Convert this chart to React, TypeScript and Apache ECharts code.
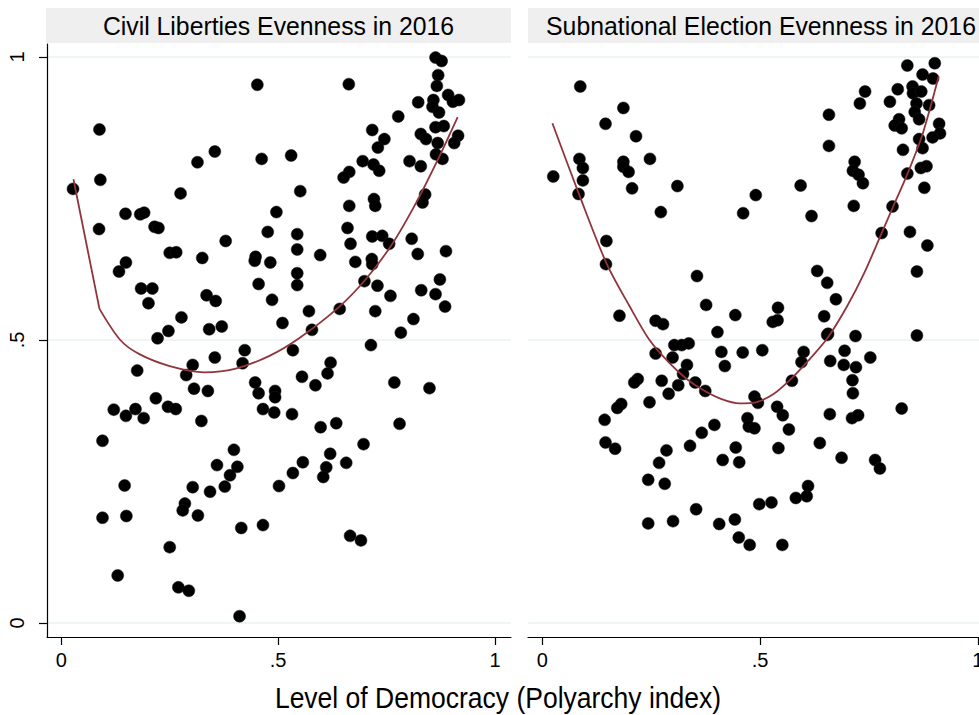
import React, { useEffect, useRef } from "react";
import * as echarts from "echarts";

const panelTitles = ["Civil Liberties Evenness in 2016", "Subnational Election Evenness in 2016"];
const xAxisTitle = "Level of Democracy (Polyarchy index)";
const tickValues = [0, 0.5, 1];

const civilPoints: number[][] = [
  [0.452,0.951],[0.088,0.872],[0.090,0.783],[0.027,0.767],[0.087,0.696],[0.354,0.833],[0.314,0.814],[0.462,0.820],
  [0.275,0.759],[0.148,0.723],[0.182,0.722],[0.191,0.725],[0.215,0.700],[0.224,0.698],[0.496,0.726],[0.476,0.691],
  [0.379,0.675],[0.250,0.654],[0.265,0.655],[0.325,0.645],[0.448,0.647],[0.446,0.640],[0.482,0.637],[0.149,0.637],
  [0.133,0.621],[0.455,0.599],[0.184,0.591],[0.210,0.591],[0.201,0.565],[0.335,0.579],[0.356,0.569],[0.486,0.571],
  [0.277,0.540],[0.247,0.516],[0.341,0.519],[0.370,0.524],[0.222,0.503],[0.510,0.530],
  [0.863,0.999],[0.877,0.993],[0.869,0.968],[0.866,0.949],[0.663,0.952],[0.823,0.920],[0.858,0.924],[0.856,0.912],
  [0.871,0.902],[0.892,0.933],[0.903,0.921],[0.917,0.924],[0.777,0.895],[0.863,0.876],[0.882,0.878],[0.717,0.871],
  [0.745,0.855],[0.730,0.840],[0.829,0.864],[0.841,0.855],[0.868,0.848],[0.915,0.861],[0.906,0.848],[0.864,0.828],
  [0.879,0.820],[0.530,0.826],[0.695,0.816],[0.720,0.810],[0.733,0.799],[0.803,0.816],[0.829,0.807],[0.664,0.797],
  [0.651,0.787],[0.551,0.763],[0.839,0.757],[0.833,0.743],[0.664,0.737],[0.721,0.749],[0.724,0.737],[0.660,0.698],
  [0.544,0.687],[0.717,0.683],[0.740,0.684],[0.756,0.670],[0.808,0.679],[0.822,0.652],[0.887,0.657],[0.544,0.660],
  [0.667,0.670],[0.597,0.650],[0.544,0.618],[0.544,0.597],[0.678,0.638],[0.716,0.643],[0.717,0.634],[0.699,0.604],
  [0.729,0.596],[0.759,0.578],[0.830,0.588],[0.863,0.581],[0.873,0.607],[0.885,0.559],[0.571,0.551],[0.642,0.555],
  [0.724,0.551],[0.812,0.537],[0.578,0.518],[0.783,0.513],
  [0.714,0.491],[0.534,0.482],[0.621,0.460],[0.614,0.441],[0.555,0.435],[0.586,0.420],[0.768,0.425],[0.849,0.415],
  [0.493,0.410],[0.493,0.399],[0.491,0.372],[0.532,0.369],[0.598,0.346],[0.634,0.353],[0.780,0.352],[0.697,0.316],
  [0.620,0.299],[0.557,0.284],[0.611,0.275],[0.657,0.283],[0.534,0.265],[0.604,0.258],[0.502,0.242],[0.666,0.154],
  [0.691,0.146],
  [0.423,0.482],[0.418,0.459],[0.354,0.469],[0.303,0.456],[0.175,0.446],[0.288,0.438],[0.306,0.414],[0.338,0.410],
  [0.447,0.425],[0.455,0.406],[0.465,0.378],[0.218,0.397],[0.121,0.377],[0.149,0.366],[0.171,0.378],[0.190,0.362],
  [0.246,0.382],[0.264,0.378],[0.323,0.357],[0.095,0.322],[0.398,0.306],[0.359,0.279],[0.406,0.276],[0.389,0.261],
  [0.377,0.241],[0.303,0.240],[0.343,0.232],[0.146,0.243],[0.285,0.211],[0.280,0.199],[0.315,0.190],[0.095,0.186],
  [0.150,0.189],[0.415,0.168],[0.465,0.173],[0.250,0.134],[0.130,0.084],[0.270,0.063],[0.294,0.057],[0.411,0.012]
];

const subnatPoints: number[][] = [
  [0.087,0.948],[0.186,0.910],[0.145,0.882],[0.215,0.860],[0.085,0.820],[0.093,0.804],[0.025,0.789],[0.093,0.782],
  [0.083,0.758],[0.186,0.815],[0.186,0.806],[0.198,0.797],[0.247,0.820],[0.206,0.768],[0.310,0.772],[0.272,0.726],
  [0.461,0.724],[0.147,0.675],[0.146,0.634],[0.355,0.613],[0.376,0.562],[0.443,0.544],[0.177,0.543],[0.260,0.534],
  [0.277,0.528],[0.402,0.514],
  [0.303,0.491],[0.320,0.491],[0.336,0.494],[0.260,0.476],[0.299,0.469],[0.411,0.479],[0.460,0.478],[0.419,0.454],
  [0.332,0.456],[0.323,0.440],[0.219,0.431],[0.211,0.425],[0.274,0.428],[0.312,0.420],[0.351,0.425],[0.374,0.410],
  [0.290,0.405],[0.246,0.390],[0.181,0.387],[0.172,0.380],[0.143,0.359],[0.145,0.319],[0.167,0.308],[0.395,0.350],
  [0.366,0.336],[0.339,0.313],[0.285,0.305],[0.268,0.283],[0.243,0.253],[0.281,0.246],[0.444,0.310],[0.414,0.288],
  [0.452,0.284],[0.471,0.362],[0.474,0.347],[0.353,0.201],[0.243,0.176],[0.300,0.180],[0.406,0.175],[0.442,0.183],
  [0.451,0.151],[0.476,0.138],
  [0.656,0.511],[0.719,0.507],[0.860,0.508],[0.505,0.482],[0.600,0.479],[0.595,0.461],[0.661,0.463],[0.694,0.481],
  [0.692,0.456],[0.720,0.452],[0.753,0.469],[0.712,0.429],[0.713,0.406],[0.573,0.428],[0.487,0.400],[0.495,0.389],
  [0.539,0.382],[0.552,0.367],[0.660,0.369],[0.711,0.362],[0.725,0.367],[0.825,0.379],[0.487,0.344],[0.566,0.342],
  [0.637,0.318],[0.542,0.309],[0.687,0.292],[0.764,0.288],[0.775,0.273],[0.610,0.242],[0.607,0.224],[0.582,0.221],
  [0.526,0.213],[0.498,0.210],[0.551,0.138],
  [0.838,0.985],[0.901,0.989],[0.873,0.969],[0.897,0.962],[0.816,0.943],[0.850,0.948],[0.851,0.936],[0.870,0.939],
  [0.741,0.939],[0.729,0.918],[0.798,0.921],[0.859,0.918],[0.888,0.915],[0.855,0.903],[0.865,0.890],[0.658,0.898],
  [0.819,0.890],[0.809,0.879],[0.825,0.874],[0.911,0.882],[0.913,0.865],[0.896,0.858],[0.865,0.855],[0.873,0.839],
  [0.828,0.836],[0.658,0.843],[0.717,0.815],[0.713,0.799],[0.726,0.792],[0.736,0.777],[0.869,0.804],[0.882,0.807],
  [0.838,0.794],[0.877,0.769],[0.593,0.773],[0.490,0.756],[0.618,0.719],[0.715,0.737],[0.804,0.736],[0.779,0.689],
  [0.844,0.691],[0.884,0.667],[0.860,0.621],[0.631,0.622],[0.654,0.601],[0.674,0.572],[0.541,0.557],[0.529,0.532],
  [0.540,0.535],[0.647,0.542],[0.654,0.509]
];

const civilFitStart: number[][] = [[0.028,0.784],[0.088,0.555]];
const civilFit: number[][] = [
  [0.088,0.555],[0.136,0.500],[0.18,0.475],[0.25,0.454],[0.33,0.443],[0.40,0.449],[0.48,0.472],
  [0.55,0.504],[0.64,0.558],[0.705,0.610],[0.765,0.672],[0.82,0.745],[0.866,0.815],[0.914,0.894]
];

const subnatFit: number[][] = [
  [0.023,0.883],[0.083,0.760],[0.147,0.636],[0.2,0.56],[0.246,0.500],[0.292,0.459],[0.33,0.432],[0.368,0.412],
  [0.41,0.396],[0.453,0.388],[0.49,0.390],[0.53,0.404],[0.568,0.429],[0.61,0.463],[0.656,0.505],[0.70,0.560],
  [0.74,0.620],[0.779,0.689],[0.805,0.735],[0.839,0.795],[0.871,0.859],[0.894,0.920],[0.910,0.966]
];

export default function App() {
  const ref = useRef<HTMLDivElement>(null);
  useEffect(() => {
    if (!ref.current) return;
    const chart = echarts.init(ref.current, null, { renderer: "svg" });
    const font = "'Liberation Sans', Arial, Helvetica, sans-serif";
    const fmt = (v: number) => (Math.abs(v - 0.5) < 1e-9 ? ".5" : String(v));
    const grids = [
      { left: 47, top: 44, width: 464, height: 593 },
      { left: 528, top: 44, width: 466, height: 593 },
    ];
    const axisLineStyle = { color: "#000", width: 1.2 };
    const xAxes = grids.map((_, i) => ({
      type: "value",
      gridIndex: i,
      min: -0.033,
      max: 1.037,
      splitLine: { show: false },
      axisLine: { show: true, onZero: false, lineStyle: axisLineStyle },
      axisTick: { show: true, length: 8, inside: false, customValues: tickValues, lineStyle: axisLineStyle },
      axisLabel: { show: true, customValues: tickValues, formatter: fmt, margin: 13, fontSize: 20, color: "#000", fontFamily: font },
    }));
    const yAxes = grids.map((_, i) => ({
      type: "value",
      gridIndex: i,
      min: -0.0247,
      max: 1.023,
      splitLine: { show: true, lineStyle: { color: "#eaf2f3", width: 1.5 } },
      axisLine: { show: i === 0, onZero: false, lineStyle: axisLineStyle },
      axisTick: { show: i === 0, length: 8, inside: false, customValues: tickValues, lineStyle: axisLineStyle },
      axisLabel: { show: i === 0, customValues: tickValues, rotate: 90, formatter: fmt, margin: 20, fontSize: 20, color: "#000", fontFamily: font },
    }));
    const scatterStyle = { color: "#000", opacity: 1, borderColor: "#1a1a1a", borderWidth: 0.5 };
    const fitStyle = { color: "#90353b", width: 1.8 };
    const series: any[] = [
      { type: "scatter", xAxisIndex: 0, yAxisIndex: 0, data: civilPoints, symbolSize: 12, itemStyle: scatterStyle, z: 3 },
      { type: "scatter", xAxisIndex: 1, yAxisIndex: 1, data: subnatPoints, symbolSize: 12, itemStyle: scatterStyle, z: 3 },
      { type: "line", xAxisIndex: 0, yAxisIndex: 0, data: civilFitStart, showSymbol: false, symbol: "none", lineStyle: fitStyle, z: 4 },
      { type: "line", xAxisIndex: 0, yAxisIndex: 0, data: civilFit, smooth: 0.3, showSymbol: false, symbol: "none", lineStyle: fitStyle, z: 4 },
      { type: "line", xAxisIndex: 1, yAxisIndex: 1, data: subnatFit, smooth: 0.3, showSymbol: false, symbol: "none", lineStyle: fitStyle, z: 4 },
    ];
    const graphic: any[] = [
      { type: "rect", shape: { x: 46, y: 8, width: 465, height: 35 }, style: { fill: "#efefef" }, z: 0 },
      { type: "rect", shape: { x: 528, y: 8, width: 470, height: 35 }, style: { fill: "#efefef" }, z: 0 },
      { type: "text", x: 278.5, y: 25.5, scaleY: 1.05, style: { text: panelTitles[0], align: "center", verticalAlign: "middle", fontSize: 24.8, fontFamily: font, fill: "#000" }, z: 1 },
      { type: "text", x: 761, y: 25.5, scaleY: 1.05, style: { text: panelTitles[1], align: "center", verticalAlign: "middle", fontSize: 24.8, fontFamily: font, fill: "#000" }, z: 1 },
      { type: "text", x: 498, y: 698, scaleY: 1.08, style: { text: xAxisTitle, align: "center", verticalAlign: "middle", fontSize: 26.5, fontFamily: font, fill: "#000" }, z: 1 },
    ];
    chart.setOption({
      animation: false,
      backgroundColor: "#fff",
      grid: grids,
      xAxis: xAxes,
      yAxis: yAxes,
      series,
      graphic,
    });
    return () => chart.dispose();
  }, []);
  return (
    <div style={{ position: "absolute", left: 0, top: 0, width: 979, height: 715, overflow: "hidden" }}>
      <div ref={ref} style={{ width: 1000, height: 715 }} />
    </div>
  );
}
